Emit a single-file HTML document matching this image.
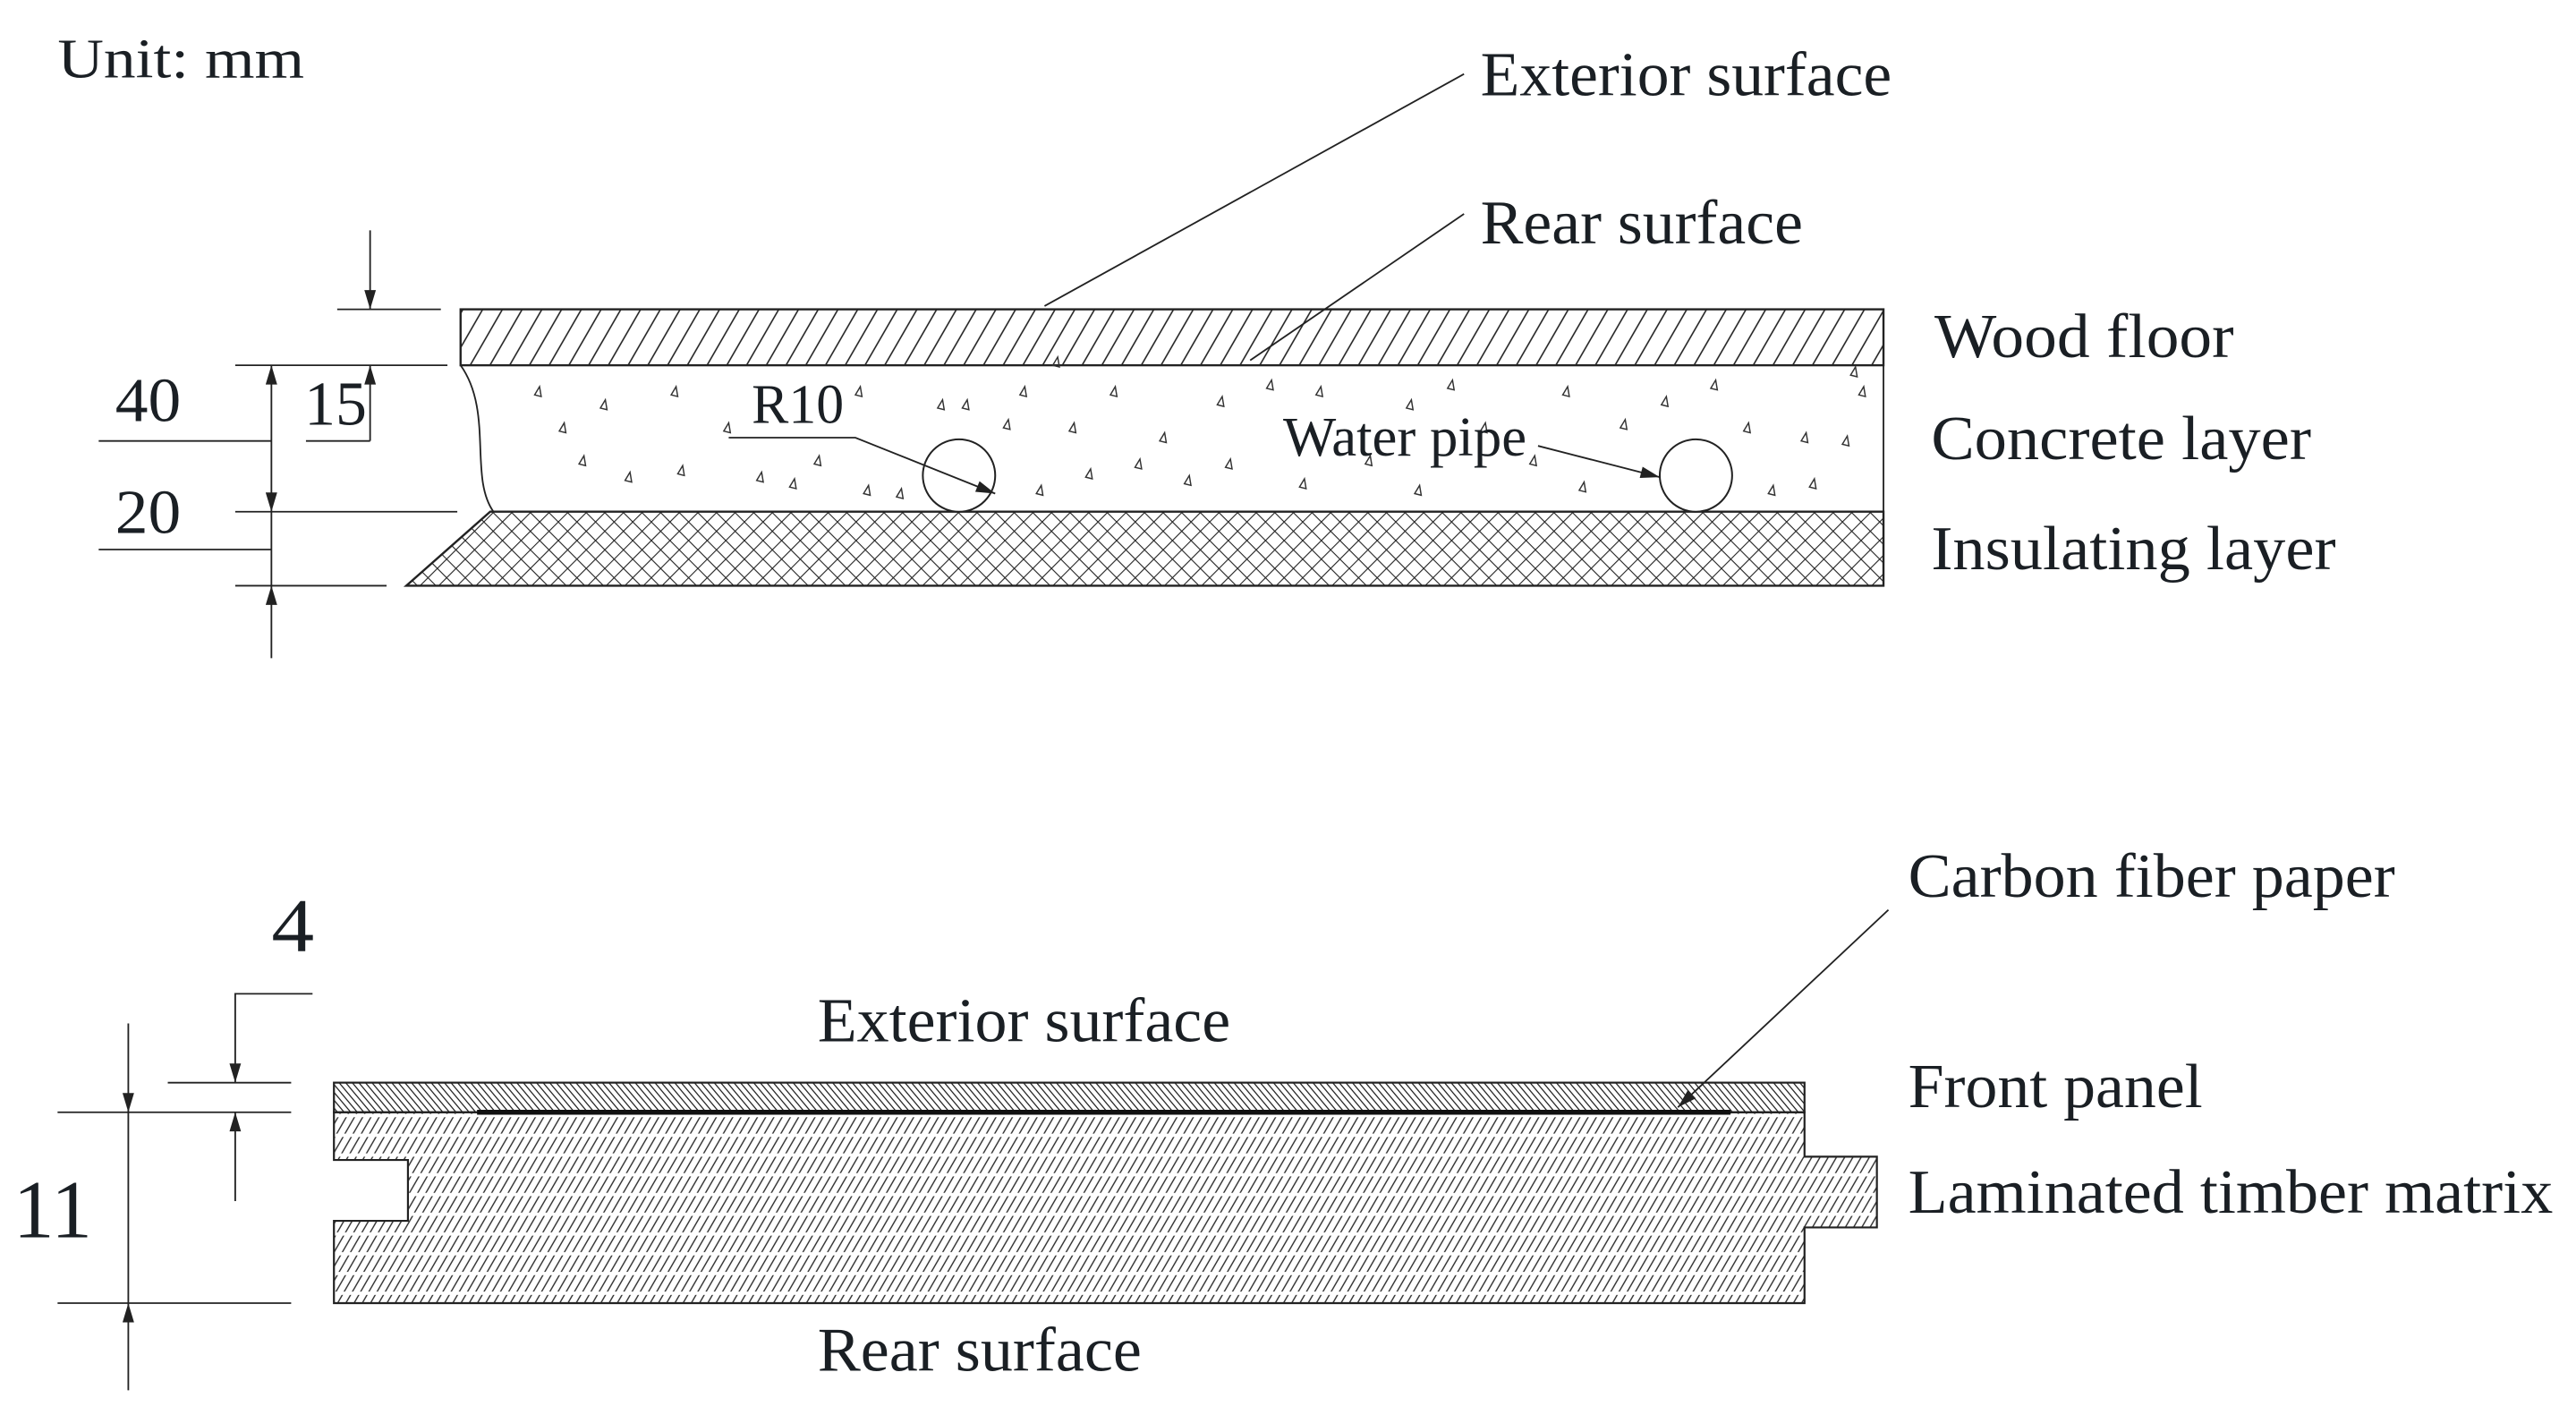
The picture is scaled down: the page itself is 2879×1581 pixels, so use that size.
<!DOCTYPE html>
<html><head><meta charset="utf-8"><style>
html,body{margin:0;padding:0;background:#fff;}
svg{display:block;}
text{font-family:"Liberation Serif",serif;fill:#1a1f24;}
</style></head><body>
<svg width="2879" height="1581" viewBox="0 0 1566 860" preserveAspectRatio="none" xmlns="http://www.w3.org/2000/svg">
<defs>
<pattern id="wood" width="12" height="40" patternUnits="userSpaceOnUse" patternTransform="skewX(-30)">
<line x1="6" y1="0" x2="6" y2="40" stroke="#222" stroke-width="1"/></pattern>
<pattern id="cross" width="8" height="8" patternUnits="userSpaceOnUse" patternTransform="rotate(45)">
<line x1="0" y1="0" x2="0" y2="8" stroke="#222" stroke-width="1.2"/><line x1="0" y1="0" x2="8" y2="0" stroke="#222" stroke-width="1.2"/></pattern>
<pattern id="front" width="4" height="20" patternUnits="userSpaceOnUse" patternTransform="skewX(40)">
<line x1="2" y1="0" x2="2" y2="20" stroke="#222" stroke-width="0.9"/></pattern>
<pattern id="lam" width="5" height="12" patternUnits="userSpaceOnUse" patternTransform="skewX(-30)">
<line x1="2.5" y1="0" x2="2.5" y2="12" stroke="#333" stroke-width="0.9" stroke-dasharray="5 2"/></pattern>
<marker id="ar" viewBox="0 0 10 6" refX="10" refY="3" markerWidth="20" markerHeight="7" markerUnits="userSpaceOnUse" orient="auto"><path d="M0,0L10,3L0,6z" fill="#222"/></marker>
<path id="t" d="M0,0L3,-5L4,1z" fill="none" stroke="#333" stroke-width="0.8"/>
</defs>

<text x="35" y="47" font-size="34" textLength="150" lengthAdjust="spacingAndGlyphs">Unit: mm</text>

<rect x="280" y="188" width="865" height="34" fill="url(#wood)" stroke="#222" stroke-width="1.3"/>
<path d="M280,222 C300,250 285,290 300,311" fill="none" stroke="#222" stroke-width="1"/>
<line x1="1145" y1="222" x2="1145" y2="311" stroke="#222" stroke-width="1"/>
<polygon points="298,311 1145,311 1145,356 247,356" fill="url(#cross)" stroke="#222" stroke-width="1.3"/>
<circle cx="583" cy="289" r="22" fill="#fff" stroke="#222" stroke-width="1.1"/>
<circle cx="1031" cy="289" r="22" fill="#fff" stroke="#222" stroke-width="1.1"/>
<g>
<use href="#t" x="325" y="240"/><use href="#t" x="340" y="262"/><use href="#t" x="352" y="282"/><use href="#t" x="365" y="248"/><use href="#t" x="380" y="292"/><use href="#t" x="408" y="240"/><use href="#t" x="412" y="288"/><use href="#t" x="440" y="262"/><use href="#t" x="460" y="292"/><use href="#t" x="480" y="296"/><use href="#t" x="495" y="282"/><use href="#t" x="520" y="240"/><use href="#t" x="525" y="300"/><use href="#t" x="545" y="302"/><use href="#t" x="570" y="248"/><use href="#t" x="585" y="248"/><use href="#t" x="610" y="260"/><use href="#t" x="620" y="240"/><use href="#t" x="630" y="300"/><use href="#t" x="640" y="222"/><use href="#t" x="650" y="262"/><use href="#t" x="660" y="290"/><use href="#t" x="675" y="240"/><use href="#t" x="690" y="284"/><use href="#t" x="705" y="268"/><use href="#t" x="720" y="294"/><use href="#t" x="740" y="246"/><use href="#t" x="745" y="284"/><use href="#t" x="770" y="236"/><use href="#t" x="790" y="296"/><use href="#t" x="800" y="240"/><use href="#t" x="830" y="282"/><use href="#t" x="855" y="248"/><use href="#t" x="860" y="300"/><use href="#t" x="880" y="236"/><use href="#t" x="900" y="262"/><use href="#t" x="930" y="282"/><use href="#t" x="950" y="240"/><use href="#t" x="960" y="298"/><use href="#t" x="985" y="260"/><use href="#t" x="1010" y="246"/><use href="#t" x="1040" y="236"/><use href="#t" x="1060" y="262"/><use href="#t" x="1075" y="300"/><use href="#t" x="1095" y="268"/><use href="#t" x="1100" y="296"/><use href="#t" x="1120" y="270"/><use href="#t" x="1130" y="240"/><use href="#t" x="1125" y="228"/>
</g>
<line x1="890" y1="45" x2="635" y2="186" stroke="#222" stroke-width="1"/>
<line x1="890" y1="130" x2="760" y2="219" stroke="#222" stroke-width="1"/>
<text x="900" y="58" font-size="38" textLength="250" lengthAdjust="spacingAndGlyphs">Exterior surface</text>
<text x="900" y="148" font-size="38" textLength="196" lengthAdjust="spacingAndGlyphs">Rear surface</text>
<text x="1176" y="217" font-size="38" textLength="182" lengthAdjust="spacingAndGlyphs">Wood floor</text>
<text x="1174" y="279" font-size="38" textLength="231" lengthAdjust="spacingAndGlyphs">Concrete layer</text>
<text x="1174" y="346" font-size="38" textLength="246" lengthAdjust="spacingAndGlyphs">Insulating layer</text>
<text x="457" y="257" font-size="34" textLength="56" lengthAdjust="spacingAndGlyphs">R10</text>
<polyline points="443,266 520,266 605,300" fill="none" stroke="#222" stroke-width="1" marker-end="url(#ar)"/>
<text x="780" y="277" font-size="34" textLength="148" lengthAdjust="spacingAndGlyphs">Water pipe</text>
<line x1="935" y1="271" x2="1009" y2="290" stroke="#222" stroke-width="1" marker-end="url(#ar)"/>

<g stroke="#222" stroke-width="1" fill="none">
<line x1="205" y1="188" x2="268" y2="188"/>
<line x1="143" y1="222" x2="272" y2="222"/>
<line x1="225" y1="140" x2="225" y2="188" marker-end="url(#ar)"/>
<line x1="225" y1="268" x2="225" y2="222" marker-end="url(#ar)"/>
<line x1="186" y1="268" x2="225" y2="268"/>
<line x1="60" y1="268" x2="165" y2="268"/>
<line x1="143" y1="311" x2="278" y2="311"/>
<line x1="60" y1="334" x2="165" y2="334"/>
<line x1="143" y1="356" x2="235" y2="356"/>
<line x1="165" y1="266" x2="165" y2="222" marker-end="url(#ar)"/>
<line x1="165" y1="266" x2="165" y2="311" marker-end="url(#ar)"/>
<line x1="165" y1="311" x2="165" y2="356"/>
<line x1="165" y1="400" x2="165" y2="356" marker-end="url(#ar)"/>
</g>
<text x="70" y="256" font-size="38" textLength="40" lengthAdjust="spacingAndGlyphs">40</text>
<text x="185" y="258" font-size="38" textLength="38" lengthAdjust="spacingAndGlyphs">15</text>
<text x="70" y="324" font-size="38" textLength="40" lengthAdjust="spacingAndGlyphs">20</text>

<rect x="203" y="658" width="894" height="18" fill="url(#front)" stroke="#222" stroke-width="1.2"/>
<polygon points="203,676 1097,676 1097,703 1141,703 1141,746 1097,746 1097,792 203,792 203,742 248,742 248,705 203,705" fill="url(#lam)" stroke="#222" stroke-width="1.2"/>
<line x1="290" y1="676" x2="1052" y2="676" stroke="#111" stroke-width="3"/>
<line x1="1148" y1="553" x2="1020" y2="673" stroke="#222" stroke-width="1" marker-end="url(#ar)"/>
<g stroke="#222" stroke-width="1" fill="none">
<polyline points="190,604 143,604 143,658" marker-end="url(#ar)"/>
<line x1="143" y1="730" x2="143" y2="676" marker-end="url(#ar)"/>
<line x1="102" y1="658" x2="177" y2="658"/>
<line x1="35" y1="676" x2="177" y2="676"/>
<line x1="35" y1="792" x2="177" y2="792"/>
<line x1="78" y1="622" x2="78" y2="676" marker-end="url(#ar)"/>
<line x1="78" y1="676" x2="78" y2="792"/>
<line x1="78" y1="845" x2="78" y2="792" marker-end="url(#ar)"/>
</g>
<text x="165" y="578" font-size="46" textLength="26" lengthAdjust="spacingAndGlyphs">4</text>
<text x="8" y="752" font-size="50" textLength="48" lengthAdjust="spacingAndGlyphs">11</text>
<text x="1160" y="545" font-size="38" textLength="296" lengthAdjust="spacingAndGlyphs">Carbon fiber paper</text>
<text x="497" y="633" font-size="38" textLength="251" lengthAdjust="spacingAndGlyphs">Exterior surface</text>
<text x="1160" y="673" font-size="38" textLength="179" lengthAdjust="spacingAndGlyphs">Front panel</text>
<text x="1160" y="737" font-size="38" textLength="392" lengthAdjust="spacingAndGlyphs">Laminated timber matrix</text>
<text x="497" y="833" font-size="38" textLength="197" lengthAdjust="spacingAndGlyphs">Rear surface</text>
</svg>
</body></html>
